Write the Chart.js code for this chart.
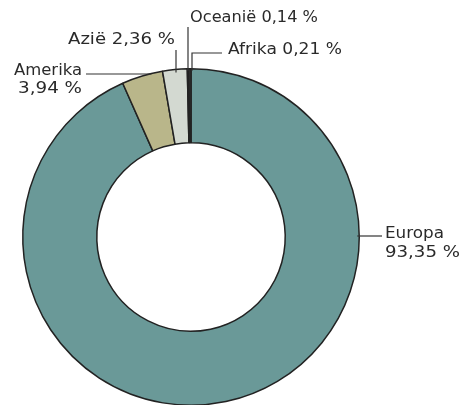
<!DOCTYPE html>
<html>
<head>
<meta charset="utf-8">
<script src="https://cdn.jsdelivr.net/npm/chart.js@4.4.1/dist/chart.umd.min.js"></script>
<style>
html,body{margin:0;padding:0;background:#fff;overflow:hidden;width:463px;height:405px;}
#wrap{position:relative;width:463px;height:420px;}
</style>
</head>
<body>
<div id="wrap"><canvas id="c" width="463" height="420"></canvas></div>
<script>
const categories = ["Europa", "Amerika", "Azië", "Oceanië", "Afrika"];
const values = [93.35, 3.94, 2.36, 0.14, 0.21];
const valueLabels = ["93,35 %", "3,94 %", "2,36 %", "0,14 %", "0,21 %"];
const colors = ["#6a9998", "#b9b68a", "#d3d9d1", "#3a3a3a", "#3a3a3a"];

const FONT = '16px "DejaVu Sans", "Noto Sans", sans-serif';
const TXT = '#2a2a2a';

const labelPlugin = {
  id: 'leaderLabels',
  afterDraw(chart) {
    const ctx = chart.ctx;
    const arc = chart.getDatasetMeta(0).data[0];
    const cx = arc.x, cy = arc.y, R = arc.outerRadius;
    const edgeX = (y, side) => cx + side * Math.sqrt(Math.max(R*R - (y-cy)*(y-cy), 0));
    const edgeY = (x) => cy - Math.sqrt(Math.max(R*R - (x-cx)*(x-cx), 0));
    ctx.save();
    ctx.font = FONT;
    ctx.fillStyle = TXT;
    ctx.strokeStyle = '#333';
    ctx.lineWidth = 1.2;
    ctx.textBaseline = 'middle';
    ctx.textAlign = 'left';
    // draw text stretched to a width, from left edge x
    const fit = (text, x, y, w) => {
      const m = ctx.measureText(text).width;
      ctx.save();
      ctx.translate(x, y);
      ctx.scale(w / m, 1);
      ctx.fillText(text, 0, 0);
      ctx.restore();
    };
    const line = (pts) => { ctx.beginPath(); ctx.moveTo(pts[0][0], pts[0][1]); for (let i=1;i<pts.length;i++) ctx.lineTo(pts[i][0], pts[i][1]); ctx.stroke(); };
    // Europa (right)
    fit(categories[0], 385, 234, 59);
    fit(valueLabels[0], 385, 253, 75);
    line([[382, 236], [edgeX(236, 1) - 2, 236]]);
    // Amerika (left)
    fit(categories[1], 14, 71, 68);
    fit(valueLabels[1], 18, 89, 64);
    line([[86, 74], [edgeX(74, -1) + 2, 74]]);
    // Azië
    fit(categories[2] + ' ' + valueLabels[2], 68, 40, 107);
    line([[176, 50], [176, edgeY(176) + 3]]);
    // Oceanië
    fit(categories[3] + ' ' + valueLabels[3], 190, 18, 128);
    line([[188, 27], [188, edgeY(188) + 2]]);
    // Afrika
    fit(categories[4] + ' ' + valueLabels[4], 228, 50, 114);
    line([[222, 53], [192, 53], [192, edgeY(192) + 2]]);
    ctx.restore();
  }
};

new Chart(document.getElementById('c'), {
  type: 'doughnut',
  data: {
    labels: categories,
    datasets: [{
      data: values,
      backgroundColor: colors,
      borderColor: '#222',
      borderWidth: 1.5
    }]
  },
  options: {
    responsive: false,
    animation: false,
    cutout: '56%',
    layout: { padding: { left: 22, right: 103, top: 68, bottom: 14 } },
    plugins: { legend: { display: false }, tooltip: { enabled: false } }
  },
  plugins: [labelPlugin]
});
</script>
</body>
</html>
